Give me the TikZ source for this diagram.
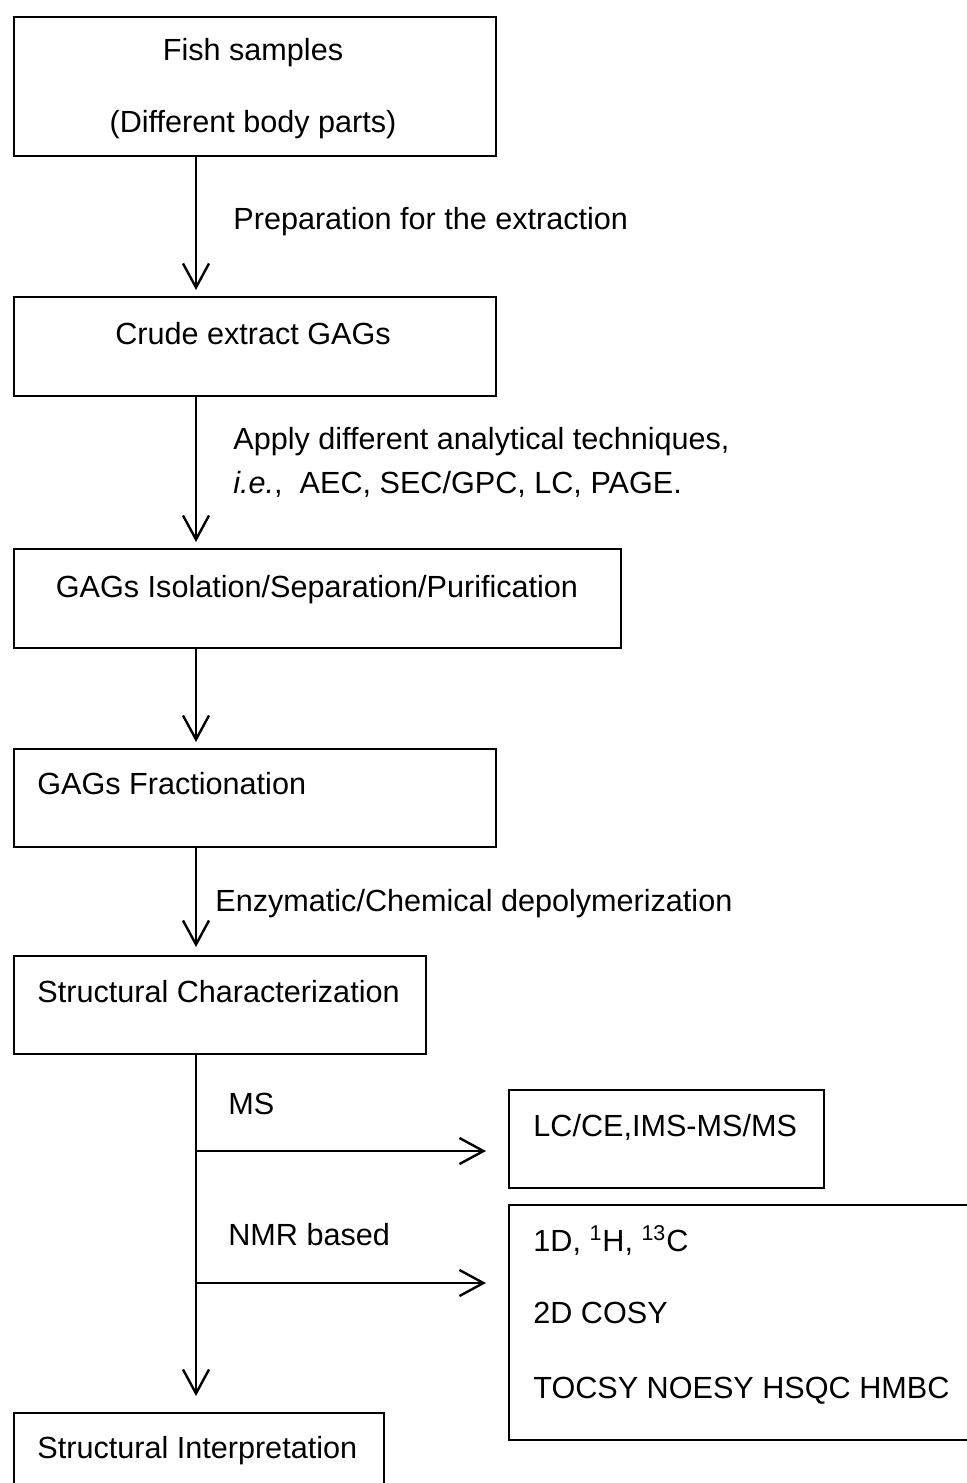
\documentclass[tikz,border=0pt]{standalone}
\usepackage{fontspec}
\setmainfont{Liberation Sans}
\usetikzlibrary{arrows.meta}
\begin{document}
\begin{tikzpicture}[x=0.5pt,y=-0.5pt,
  box/.style={draw,line width=1.2pt,anchor=north west,inner sep=0pt},
  lbl/.style={inner sep=0pt,anchor=base west,font=\fontsize{15.3pt}{22pt}\selectfont},
  arr/.style={line width=1.2pt,-{Straight Barb[length=12pt,width=13pt,line width=1.2pt]}}]
\useasboundingbox (0,0) rectangle (967,1483);
\coordinate (spine) at (196,0);
% boxes
\node[box,minimum width=241pt,minimum height=69.5pt] (fish) at (13,16) {};
\node[box,minimum width=241pt,minimum height=49.5pt] (crude) at (13,296) {};
\node[box,minimum width=303.5pt,minimum height=49.5pt] (isol) at (13,548) {};
\node[box,minimum width=241pt,minimum height=49pt] (frac) at (13,748) {};
\node[box,minimum width=206pt,minimum height=49pt] (charac) at (13,955) {};
\node[box,minimum width=157.5pt,minimum height=49pt] (lcce) at (508,1089) {};
\node[box,minimum width=250pt,minimum height=117.5pt] (nmr) at (508,1204) {};
\node[box,minimum width=185pt,minimum height=50pt] (interp) at (13,1412) {};
% texts
\node[lbl,anchor=base] (fishtxt) at (253,61) {Fish samples};
\node[lbl,anchor=base] (bodytxt) at (253,132) {(Different body parts)};
\node[lbl] (preptxt) at (233,229) {Preparation for the extraction};
\node[lbl,anchor=base] (crudetxt) at (253,344) {Crude extract GAGs};
\node[lbl,align=left] (applytxt) at (233,493) {Apply different analytical techniques,\\\textit{i.e.},\ \ AEC, SEC/GPC, LC, PAGE.};
\node[lbl,anchor=base] (isoltxt) at (317,597) {GAGs Isolation/Separation/Purification};
\node[lbl] (fractxt) at (37,794) {GAGs Fractionation};
\node[lbl] (enztxt) at (215,911) {Enzymatic/Chemical depolymerization};
\node[lbl] (charactxt) at (37,1002) {Structural Characterization};
\node[lbl] (mstxt) at (228,1114) {MS};
\node[lbl] (lccetxt) at (533,1136) {LC/CE,IMS-MS/MS};
\node[lbl] (nmrtxt) at (228,1245) {NMR based};
\node[lbl] (onedtxt) at (533,1251) {1D, \textsuperscript{1}H, \textsuperscript{13}C};
\node[lbl] (twodtxt) at (533,1323) {2D COSY};
\node[lbl] (tocsytxt) at (533,1398) {TOCSY NOESY HSQC HMBC};
\node[lbl] (interptxt) at (37,1458) {Structural Interpretation};
% arrows
\draw[arr,shorten >=3pt] (fish.south -| spine) -- (crude.north -| spine);
\draw[arr,shorten >=3pt] (crude.south -| spine) -- (isol.north -| spine);
\draw[arr,shorten >=3pt] (isol.south -| spine) -- (frac.north -| spine);
\draw[arr,shorten >=4pt] (frac.south -| spine) -- (charac.north -| spine);
\draw[arr,shorten >=8pt] (charac.south -| spine) -- (interp.north -| spine);
\coordinate (msfork) at (196,1151);
\coordinate (nmrfork) at (196,1283);
\draw[arr,shorten >=11pt] (msfork) -- (msfork -| lcce.west);
\draw[arr,shorten >=11pt] (nmrfork) -- (nmrfork -| nmr.west);
\end{tikzpicture}
\end{document}
